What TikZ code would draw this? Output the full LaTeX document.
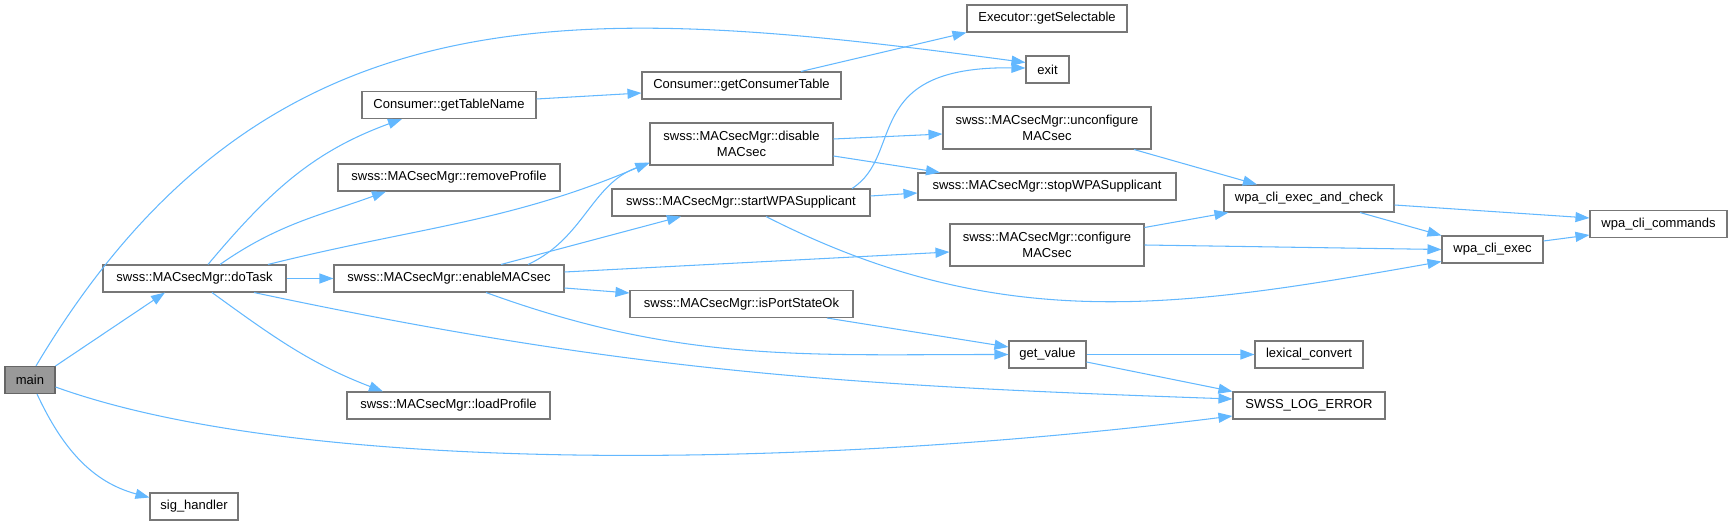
\documentclass[tikz,border=0pt]{standalone}
\usepackage{fontspec}
\setmainfont{Liberation Sans}
\usepackage{tikz}
\usetikzlibrary{arrows.meta, positioning, calc}

\definecolor{edgeblue}{HTML}{63B8FF}
\definecolor{boxborder}{HTML}{777777}
\definecolor{mainfill}{HTML}{999999}
\definecolor{mainborder}{HTML}{666666}

\begin{document}
\begin{tikzpicture}[
        x=0.2mm, y=-0.2mm,
        fnbox/.style={
            rectangle, draw=boxborder, line width=0.6pt, fill=white,
            minimum height=5.4mm, inner sep=0pt, align=center,
            font=\fontsize{7.4}{8.9}\selectfont
        },
        twoline/.style={fnbox, minimum height=8.4mm},
        mainbox/.style={fnbox, fill=mainfill, draw=mainborder},
        call/.style={-{Triangle[length=2.8mm, width=2mm]}, draw=edgeblue, line width=0.6pt}
    ]
        \useasboundingbox (0,0) rectangle (1732,525);

        % Caller
        \node[mainbox, minimum width=10mm] (main) at (30, 380) {main};

        % First level
        \node[fnbox, minimum width=36.6mm] (doTask) at (194.5, 278.5) {swss::MACsecMgr::doTask};
        \node[fnbox, minimum width=17.6mm] (sigHandler) at (194, 506.5) {sig\_handler};

        % Second level
        \node[fnbox, minimum width=34.8mm] (getTableName) at (449, 105) {Consumer::getTableName};
        \node[fnbox, minimum width=44.4mm] (removeProfile) at (449, 177.5) {swss::MACsecMgr::removeProfile};
        \node[fnbox, minimum width=46mm] (enableMACsec) at (449, 278.5) {swss::MACsecMgr::enableMACsec};
        \node[fnbox, minimum width=40.6mm] (loadProfile) at (448.5, 405.5) {swss::MACsecMgr::loadProfile};

        % Third level
        \node[fnbox, minimum width=39.8mm] (getConsumerTable) at (741.5, 85.5) {Consumer::getConsumerTable};
        \node[twoline, minimum width=36.6mm] (disableMACsec) at (741.5, 144) {swss::MACsecMgr::disable\\MACsec};
        \node[fnbox, minimum width=51.6mm] (startWPA) at (741, 202.5) {swss::MACsecMgr::startWPASupplicant};
        \node[fnbox, minimum width=44.6mm] (isPortStateOk) at (741.5, 304) {swss::MACsecMgr::isPortStateOk};

        % Fourth level
        \node[fnbox, minimum width=32mm] (getSelectable) at (1047, 18.5) {Executor::getSelectable};
        \node[fnbox, minimum width=8.6mm] (exit) at (1047.5, 69.5) {exit};
        \node[twoline, minimum width=41.6mm] (unconfigure) at (1047, 128) {swss::MACsecMgr::unconfigure\\MACsec};
        \node[fnbox, minimum width=51.6mm] (stopWPA) at (1047, 186.5) {swss::MACsecMgr::stopWPASupplicant};
        \node[twoline, minimum width=38.8mm] (configure) at (1047, 245) {swss::MACsecMgr::configure\\MACsec};
        \node[fnbox, minimum width=15.4mm] (getValue) at (1047.5, 354.5) {get\_value};

        % Fifth level and beyond
        \node[fnbox, minimum width=34mm] (execCheck) at (1309, 198.5) {wpa\_cli\_exec\_and\_check};
        \node[fnbox, minimum width=21.6mm] (lexicalConvert) at (1309, 354.5) {lexical\_convert};
        \node[fnbox, minimum width=30.4mm] (logError) at (1309, 405.5) {SWSS\_LOG\_ERROR};
        \node[fnbox, minimum width=20.2mm] (cliExec) at (1492.5, 249.5) {wpa\_cli\_exec};
        \node[fnbox, minimum width=27.4mm] (cliCommands) at (1658.5, 224) {wpa\_cli\_commands};

        % Calls from main
        \draw[call] (main.north east) -- ([xshift=-5.9mm]doTask.south);
        \draw[call] ([xshift=1.2mm]main.north) .. controls (266,-20) and (580,3) .. ([yshift=1.4mm]exit.west);
        \draw[call] ([yshift=-1.4mm]main.east) .. controls (300,475) and (800,470) .. ([yshift=-2.1mm]logError.west);
        \draw[call] ([xshift=1.4mm]main.south) to[out=-65, in=165] ([yshift=1.8mm]sigHandler.west);

        % Calls from doTask
        \draw[call] ([xshift=2.7mm]doTask.north) to[out=50, in=200] ([xshift=-9.4mm]getTableName.south);
        \draw[call] ([xshift=5.1mm]doTask.north) to[out=35, in=200] ([xshift=-12.6mm]removeProfile.south);
        \draw[call] ([xshift=14.7mm]doTask.north) to[out=14, in=203] ([yshift=-3.7mm]disableMACsec.west);
        \draw[call] (doTask.east) -- (enableMACsec.west);
        \draw[call] ([xshift=3.5mm]doTask.south) to[out=-36, in=159] ([xshift=-13.1mm]loadProfile.north);
        \draw[call] ([xshift=11.9mm]doTask.south) to[out=-12, in=178] ([yshift=1.3mm]logError.west);

        % Calls from the second level
        \draw[call] ([yshift=1.2mm]getTableName.east) -- ([yshift=-1.5mm]getConsumerTable.west);
        \draw[call] ([xshift=15.8mm]enableMACsec.north) to[out=25, in=200] ([yshift=-3.8mm]disableMACsec.west);
        \draw[call] ([xshift=10.4mm]enableMACsec.north) -- ([xshift=-12mm]startWPA.south);
        \draw[call] ([yshift=1.3mm]enableMACsec.east) -- ([yshift=-1.4mm]configure.west);
        \draw[call] ([yshift=-1.9mm]enableMACsec.east) -- ([yshift=2.2mm]isPortStateOk.west);
        \draw[call] ([xshift=7.4mm]enableMACsec.south) to[out=-20, in=180] (getValue.west);

        % Calls from the third level
        \draw[call] ([xshift=11.9mm]getConsumerTable.north) -- (getSelectable.south west);
        \draw[call] ([yshift=1mm]disableMACsec.east) -- ([yshift=-1.2mm]unconfigure.west);
        \draw[call] ([yshift=-2.4mm]disableMACsec.east) -- ([xshift=-21.4mm]stopWPA.north);
        \draw[call] ([yshift=1.3mm]startWPA.east) -- ([yshift=-1.3mm]stopWPA.west);
        \draw[call] ([xshift=22.2mm]startWPA.north) .. controls (905,155) and (860,66) .. ([yshift=0.3mm]exit.west);
        \draw[call] ([xshift=5mm]startWPA.south) to[out=-27, in=190] ([yshift=-2.4mm]cliExec.west);
        \draw[call] ([xshift=17.1mm]isPortStateOk.south) -- ([yshift=1.5mm]getValue.west);

        % Calls from the fourth level
        \draw[call] ([xshift=17.4mm]unconfigure.south) -- ([xshift=-10.4mm]execCheck.north);
        \draw[call] ([yshift=3.5mm]configure.east) -- ([xshift=1mm]execCheck.south west);
        \draw[call] (configure.east) -- (cliExec.west);
        \draw[call] (getValue.east) -- (lexicalConvert.west);
        \draw[call] ([yshift=-1.5mm]getValue.east) -- (logError.north west);

        % Calls into wpa_cli
        \draw[call] ([yshift=-1.3mm]execCheck.east) -- ([yshift=1.2mm]cliCommands.west);
        \draw[call] ([xshift=10.2mm]execCheck.south) -- (cliExec.north west);
        \draw[call] ([yshift=1.7mm]cliExec.east) -- ([yshift=-2.2mm]cliCommands.west);

\end{tikzpicture}
\end{document}
